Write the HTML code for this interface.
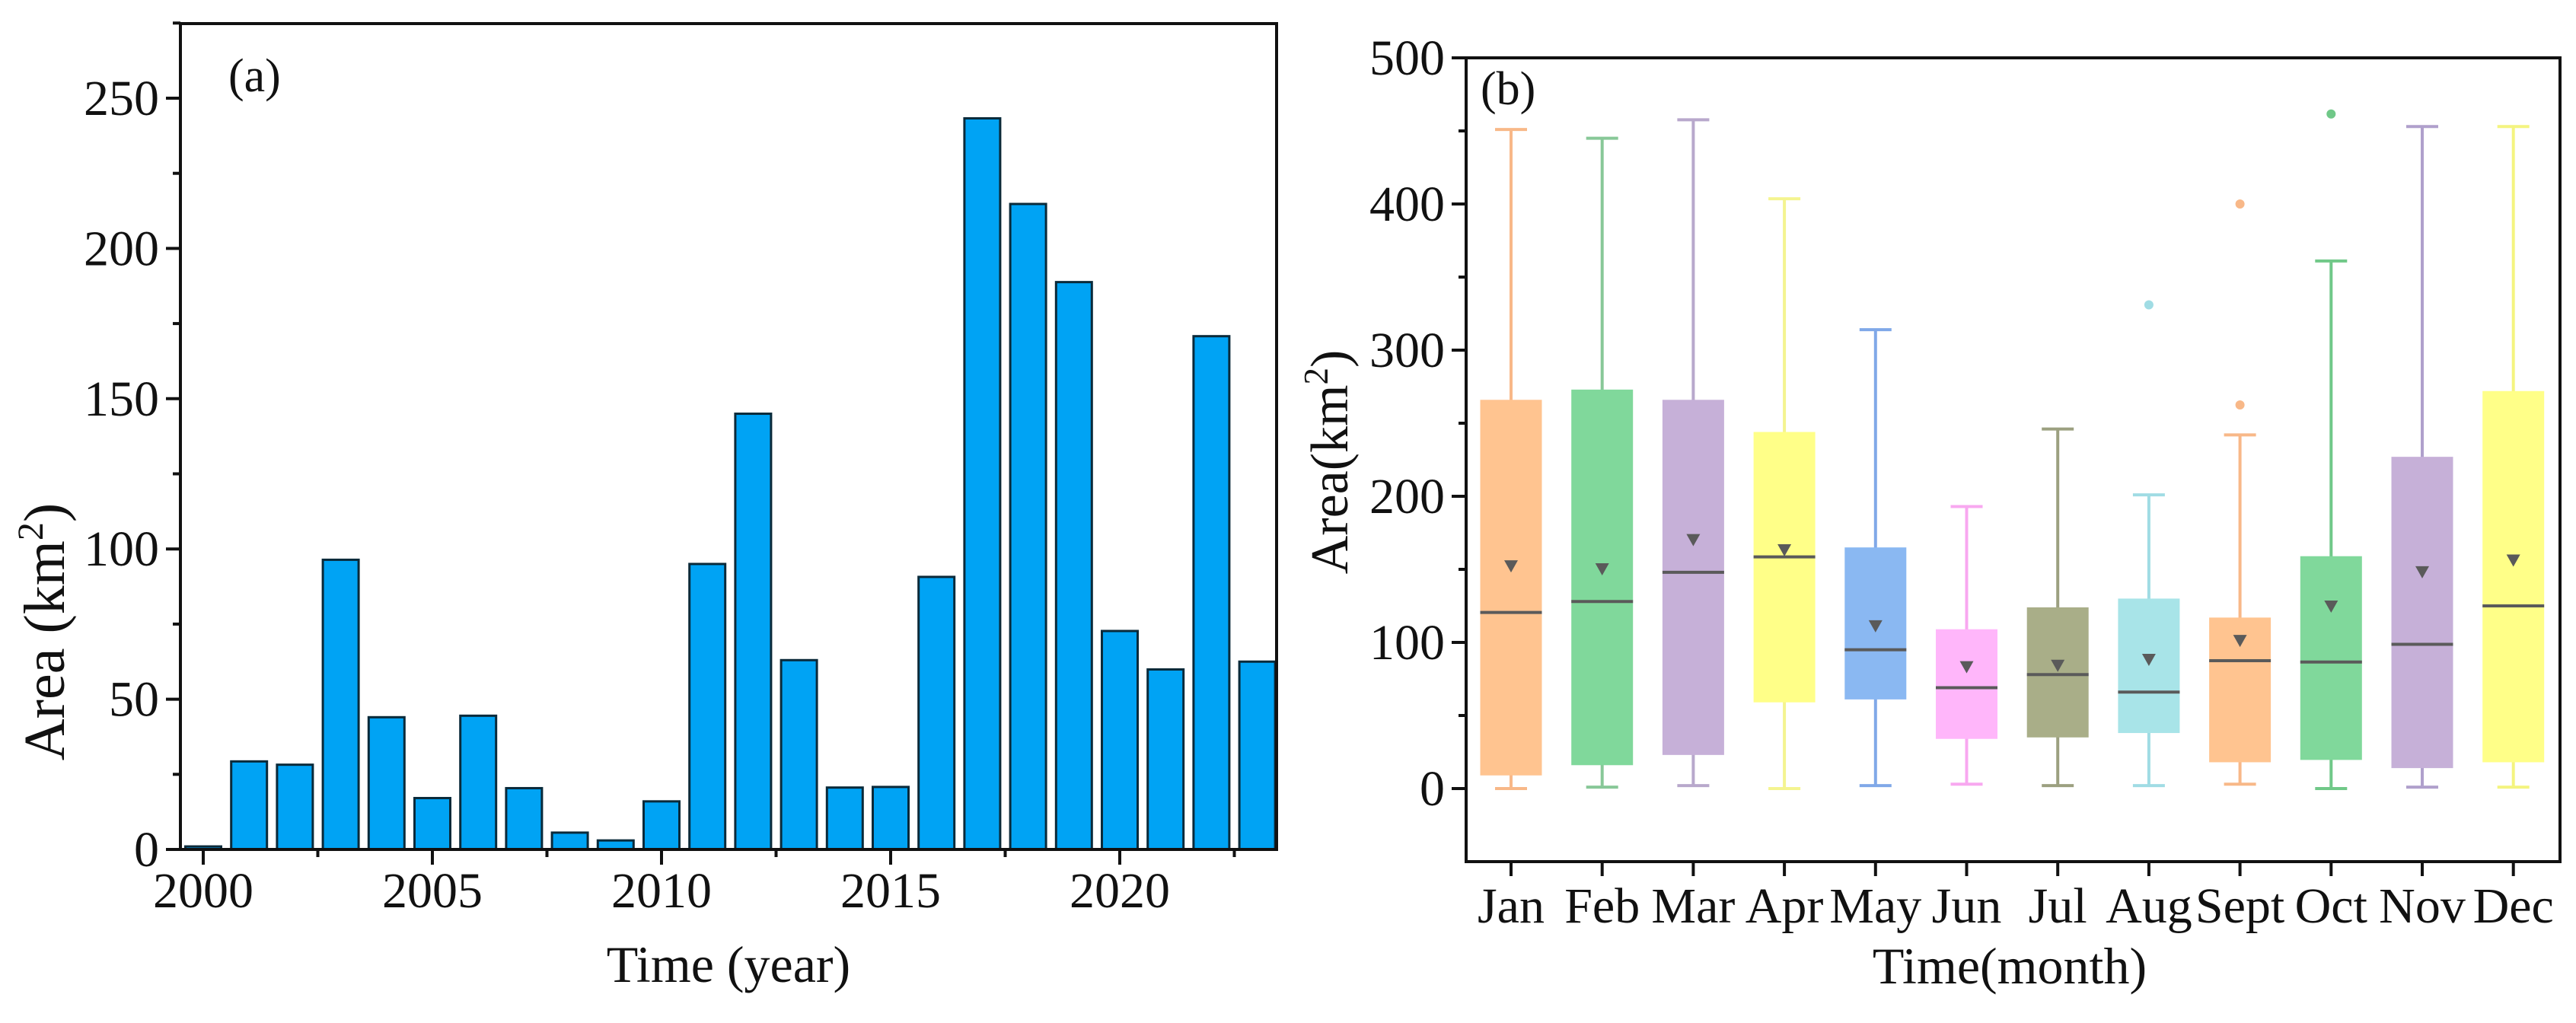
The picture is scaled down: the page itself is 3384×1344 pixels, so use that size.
<!DOCTYPE html>
<html><head><meta charset="utf-8"><style>
html,body{margin:0;padding:0;background:#fff;}
svg{display:block;font-family:"Liberation Serif",serif;}
</style></head><body>
<svg id="fig" width="3384" height="1344" viewBox="0 0 3384 1344" xmlns="http://www.w3.org/2000/svg">
<g id="ca"></g>
<g id="cb"></g>
</svg>
<script>
const years=[2000,2001,2002,2003,2004,2005,2006,2007,2008,2009,2010,2011,2012,2013,2014,2015,2016,2017,2018,2019,2020,2021,2022,2023];
const areas=[1,29.3,28.2,96.4,44,17.1,44.5,20.4,5.6,3,16,95,145,63,20.6,20.8,90.7,243.3,214.8,188.8,72.7,59.9,170.8,62.5];
const yTicksA=[0,50,100,150,200,250];
const xTicksA=[2000,2005,2010,2015,2020];

const months=["Jan","Feb","Mar","Apr","May","Jun","Jul","Aug","Sept","Oct","Nov","Dec"];
const whiskerMin=[0,1,2,0,2,3,2,2,3,0,1,1];
const q1=[9,16,23,59,61,34,35,38,18,19.6,14,18];
const medians=[120.5,128,148,158.5,95,69,78,66,87.5,86.6,98.7,125];
const q3=[266,273,266,244,165,109,124,130,117,159,227,272];
const whiskerMax=[451,445,457.6,403.6,314,193,246,201,242,361,453,453];
const means=[152,150,170,163,111,83,84,88,101,124.5,148,156];
const outlierMonth=[7,8,8,9];
const outlierValue=[331,400,262.5,461.6];
const yTicksB=[0,100,200,300,400,500];
const boxColors=["#ffc490","#80d89b","#c6b0d8","#ffff88","#8ab8f2","#ffb6fa","#a9ae88","#a8e4e8","#ffc490","#80d89b","#c6b0d8","#ffff88"];
const whiskColors=["#f8b888","#88c898","#b8a8cc","#f4f490","#80a8e8","#f8a8f0","#9ca080","#a0dce4","#f8b888","#70c888","#b0a0cc","#f4f480"];

const NS="http://www.w3.org/2000/svg";
function mk(p,t,a){const e=document.createElementNS(NS,t);for(const k in a)e.setAttribute(k,a[k]);p.appendChild(e);return e;}

// Chart A
const A=document.getElementById('ca');
const aL=237,aR=1677,aT=31,y0A=1116,pxA=3.948;
const xA=v=>267+(v-2000)*60.2;
const yA=v=>y0A-v*pxA;
areas.forEach((v,i)=>{
  const r=mk(A,'rect',{x:xA(years[i])-23.5,y:yA(v),width:47,height:y0A-yA(v),fill:'#00a3f4',stroke:'#0a2a3a','stroke-width':3});
  
  
});
mk(A,'rect',{x:aR+1,y:0,width:60,height:1200,fill:'#fff'});
const fa=mk(A,'rect',{x:aL,y:aT,width:aR-aL,height:y0A-aT,fill:'none',stroke:'#111','stroke-width':4});

for(let v=0;v<=275;v+=25){const maj=v%50===0;mk(A,'line',{x1:aL,x2:aL-(maj?19:10),y1:yA(v),y2:yA(v),stroke:'#111','stroke-width':4});}
yTicksA.forEach(v=>{const t=mk(A,'text',{x:aL-28,y:yA(v)+22,'font-size':66,'text-anchor':'end',fill:'#111'});t.textContent=v;
  });
for(let yr=2000;yr<=2023;yr+=2.5){const maj=(yr%5===0);mk(A,'line',{x1:xA(yr),x2:xA(yr),y1:y0A,y2:y0A+(maj?20:10),stroke:'#111','stroke-width':4});}
xTicksA.forEach(v=>{const t=mk(A,'text',{x:xA(v),y:1192,'font-size':66,'text-anchor':'middle',fill:'#111'});t.textContent=v;
  });
let t=mk(A,'text',{x:957,y:1290,'font-size':68,'text-anchor':'middle',fill:'#111'});t.textContent='Time (year)';

t=mk(A,'text',{x:0,y:0,'font-size':76,'text-anchor':'middle',fill:'#111',transform:'translate(84,830) rotate(-90)'});
t.innerHTML='Area (km<tspan dy="-28" font-size="48">2</tspan><tspan dy="28">)</tspan>';

t=mk(A,'text',{x:300,y:120,'font-size':62,fill:'#111'});t.textContent='(a)';


// Chart B
const B=document.getElementById('cb');
const bL=1926,bR=3363,bT=76,bB=1132,y0B=1036,pxB=1.92;
const xB=i=>1985+i*119.7;
const yB=v=>y0B-v*pxB;
months.forEach((m,i)=>{
  const g=mk(B,'g',{});
  
  
  const cx=xB(i),wc=whiskColors[i];
  mk(g,'line',{x1:cx,x2:cx,y1:yB(whiskerMax[i]),y2:yB(whiskerMin[i]),stroke:wc,'stroke-width':4});
  mk(g,'line',{x1:cx-21,x2:cx+21,y1:yB(whiskerMax[i]),y2:yB(whiskerMax[i]),stroke:wc,'stroke-width':4});
  mk(g,'line',{x1:cx-21,x2:cx+21,y1:yB(whiskerMin[i]),y2:yB(whiskerMin[i]),stroke:wc,'stroke-width':4});
  mk(g,'rect',{x:cx-40.5,y:yB(q3[i]),width:81,height:yB(q1[i])-yB(q3[i]),fill:boxColors[i]});
  mk(g,'line',{x1:cx-40.5,x2:cx+40.5,y1:yB(medians[i]),y2:yB(medians[i]),stroke:'#5a5a5a','stroke-width':4});
  const my=yB(means[i]);
  mk(g,'path',{d:`M${cx-9},${my-8}L${cx+9},${my-8}L${cx},${my+8}Z`,fill:'#5a5a5a'});
});
outlierValue.forEach((v,k)=>{
  const c=mk(B,'circle',{cx:xB(outlierMonth[k]),cy:yB(v),r:6,fill:whiskColors[outlierMonth[k]]});
  
});
const fb=mk(B,'rect',{x:bL,y:bT,width:bR-bL,height:bB-bT,fill:'none',stroke:'#111','stroke-width':4});

for(let v=0;v<=500;v+=50){const maj=v%100===0;mk(B,'line',{x1:bL,x2:bL-(maj?19:10),y1:yB(v),y2:yB(v),stroke:'#111','stroke-width':4});}
yTicksB.forEach(v=>{const t=mk(B,'text',{x:bL-28,y:yB(v)+22,'font-size':66,'text-anchor':'end',fill:'#111'});t.textContent=v;
  });
months.forEach((m,i)=>{mk(B,'line',{x1:xB(i),x2:xB(i),y1:bB,y2:bB+19,stroke:'#111','stroke-width':4});
  const t=mk(B,'text',{x:xB(i),y:1212,'font-size':66,'text-anchor':'middle',fill:'#111'});t.textContent=m;
  });
t=mk(B,'text',{x:2640,y:1292,'font-size':68,'text-anchor':'middle',fill:'#111'});t.textContent='Time(month)';

t=mk(B,'text',{x:0,y:0,'font-size':70,'text-anchor':'middle',fill:'#111',transform:'translate(1770,607) rotate(-90)'});
t.innerHTML='Area(km<tspan dy="-26" font-size="45">2</tspan><tspan dy="26">)</tspan>';

t=mk(B,'text',{x:1945,y:137,'font-size':62,fill:'#111'});t.textContent='(b)';

</script>
</body></html>
